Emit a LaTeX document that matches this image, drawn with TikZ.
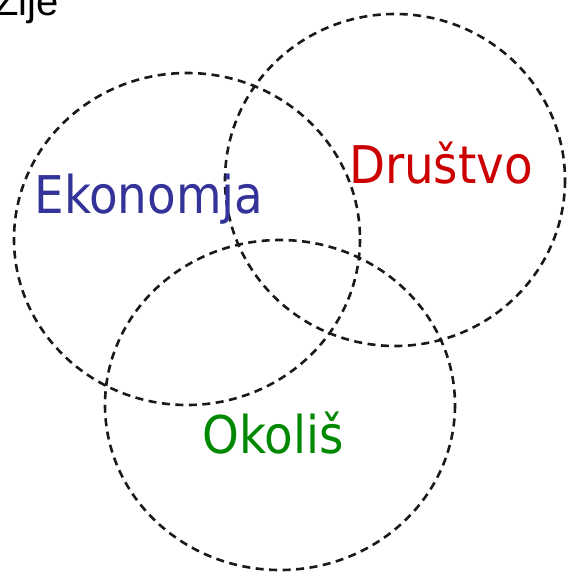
\documentclass[tikz,border=0pt]{standalone}
\usepackage{fontspec}
\setmainfont{DejaVu Sans Condensed}
\newfontfamily\titlefont{Liberation Sans}
\definecolor{ekoblue}{RGB}{51,51,153}
\definecolor{drured}{RGB}{204,0,0}
\definecolor{okogreen}{RGB}{0,136,0}
\tikzset{
  ring/.style={draw=black!90, line width=2.6pt, dash pattern=on 8pt off 5.5pt},
  label/.style={inner sep=0pt, anchor=base, font=\fontsize{52}{60}\selectfont}
}
\begin{document}
\begin{tikzpicture}[x=1pt,y=-1pt]
\useasboundingbox (0,0) rectangle (567,573);
\clip (0,0) rectangle (567,573);
\node[inner sep=0pt, anchor=base west, font=\titlefont\fontsize{40}{44}\selectfont] (title) at (-6,15) {Zije};
\draw[ring] (187,239) ellipse [x radius=173, y radius=166];
\draw[ring] (395,180) ellipse [x radius=170, y radius=166];
\draw[ring] (280,405) ellipse [x radius=175, y radius=165];
\node[label, text=ekoblue] (eko) at (149,213) {Ekonomja};
\node[label, text=drured] (dru) at (441,183) {Društvo};
\node[label, text=okogreen] (oko) at (273,453) {Okoliš};
\end{tikzpicture}
\end{document}
